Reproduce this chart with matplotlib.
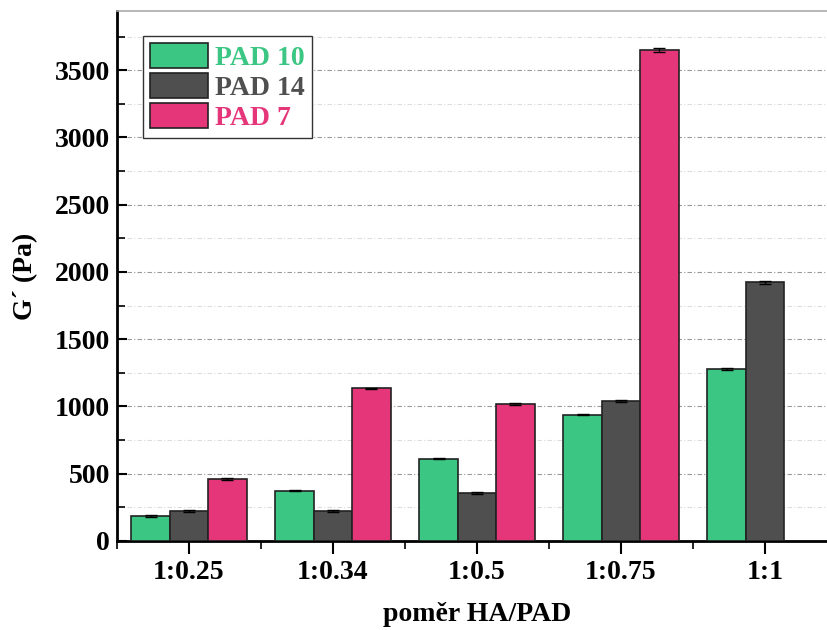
import numpy as np
import matplotlib
matplotlib.use('Agg')
import matplotlib.pyplot as plt
from matplotlib.ticker import MultipleLocator

RATIOS = ['1:0.25', '1:0.34', '1:0.5', '1:0.75', '1:1']
PAD10 = [188, 374, 612, 937, 1280]
PAD14 = [225, 221, 359, 1042, 1922]
PAD7 = [461, 1136, 1017, 3648]
PAD10_ERR = [8, 6, 5, 4, 8]
PAD14_ERR = [7, 8, 6, 8, 10]
PAD7_ERR = [6, 5, 6, 15]

COLORS = {'PAD 10': '#3cc683', 'PAD 14': '#4f4f4f', 'PAD 7': '#e5367a'}

plt.rcParams['font.family'] = ['Liberation Serif', 'DejaVu Serif']
plt.rcParams['font.weight'] = 'bold'
plt.rcParams['font.size'] = 20

fig = plt.figure(figsize=(8.27, 6.30), dpi=100)
ax = fig.add_axes([117 / 827, 89 / 630, 720 / 827, 530 / 630])

x = np.arange(len(RATIOS))
w = 0.267
err_kw = dict(ecolor='black', capsize=4, elinewidth=1, capthick=1)
ax.bar(x - w, PAD10, w, yerr=PAD10_ERR, color=COLORS['PAD 10'], edgecolor='#222222',
       linewidth=1.2, label='PAD 10', error_kw=err_kw, zorder=3)
ax.bar(x, PAD14, w, yerr=PAD14_ERR, color=COLORS['PAD 14'], edgecolor='#222222',
       linewidth=1.2, label='PAD 14', error_kw=err_kw, zorder=3)
ax.bar(x[:len(PAD7)] + w, PAD7, w, yerr=PAD7_ERR, color=COLORS['PAD 7'], edgecolor='#222222',
       linewidth=1.2, label='PAD 7', error_kw=err_kw, zorder=3)

ax.set_xlim(-0.5, 4.5)
ax.set_ylim(0, 3940)
ax.set_xticks(x)
ax.set_xticklabels(RATIOS)
ax.xaxis.set_minor_locator(MultipleLocator(1, offset=0.5))
ax.yaxis.set_major_locator(MultipleLocator(500))
ax.yaxis.set_minor_locator(MultipleLocator(250))

ax.tick_params(axis='y', which='major', direction='in', length=7, width=1.5, pad=5)
ax.tick_params(axis='y', which='minor', direction='in', length=6, width=1.2)
ax.tick_params(axis='x', which='major', direction='out', length=9, width=1.5, pad=5)
ax.tick_params(axis='x', which='minor', direction='out', length=6, width=1.2)

ax.grid(axis='y', which='major', linestyle=(0, (4, 2, 1, 2)), color='#9a9a9a', linewidth=0.8, zorder=0)
ax.grid(axis='y', which='minor', linestyle=(0, (4, 2, 1, 2)), color='#dddddd', linewidth=0.8, zorder=0)

ax.spines['left'].set_linewidth(2)
ax.spines['bottom'].set_linewidth(2)
ax.spines['top'].set_color('#aaaaaa')
ax.spines['top'].set_linewidth(1.2)
ax.spines['right'].set_visible(False)

ax.set_ylabel('G´ (Pa)', fontsize=20, fontweight='bold', labelpad=12)
ax.set_xlabel('poměr HA/PAD', fontsize=20, fontweight='bold', labelpad=12)

leg = ax.legend(loc='upper left', bbox_to_anchor=(0.036, 0.953), borderaxespad=0,
                fancybox=False, edgecolor='#333333', framealpha=1,
                handlelength=2.1, handleheight=1.0, labelspacing=0.08,
                handletextpad=0.25, borderpad=0.25, fontsize=20)
leg.get_frame().set_linewidth(1)
for txt in leg.get_texts():
    txt.set_color(COLORS[txt.get_text()])

fig.savefig('out.png', dpi=100)
